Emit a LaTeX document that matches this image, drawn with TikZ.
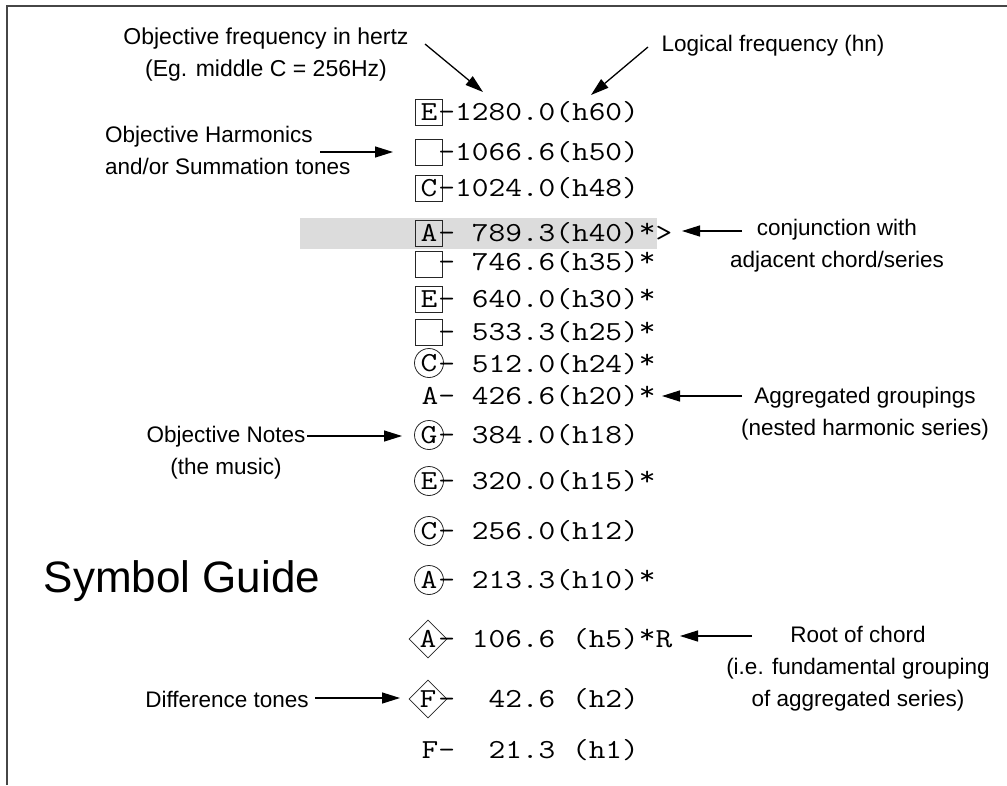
\documentclass[tikz,border=0pt]{standalone}
\usepackage{fontspec}
\usepackage{graphicx}
\setmainfont{Liberation Sans}
\usetikzlibrary{shapes.geometric,arrows.meta}
\newlength\cellw \setlength\cellw{16.7pt}
\newcommand\mch[1]{\scalebox{1.18}[1]{#1}}
\newcommand\st{\raisebox{4pt}{*}}
\def\mrow#1{\mrowi#1\relax}
\def\mrowi#1{\ifx\relax#1\else\makebox[\cellw]{\mch{#1}}\expandafter\mrowi\fi}
\definecolor{band}{RGB}{220,220,220}
\definecolor{frame}{RGB}{70,70,70}
\begin{document}
\begin{tikzpicture}[x=1pt,y=-1pt,
  mono/.style={font=\ttfamily\fontsize{27.5}{30}\selectfont, inner sep=0pt},
  rowtxt/.style={mono, anchor=base west},
  sqbox/.style={mono, draw=black!85, line width=0.8pt, minimum width=27pt, minimum height=26pt},
  circbox/.style={mono, draw=black!85, line width=0.8pt, circle, minimum size=29pt},
  diabox/.style={mono, draw=black!85, line width=0.8pt, diamond, minimum size=38pt},
  plainbox/.style={mono},
  lbl/.style={font=\fontsize{22.5}{32}\selectfont, inner sep=0pt, align=center},
  arr/.style={line width=1.3pt, -{Triangle[length=18pt,width=11pt]}}]
\useasboundingbox (0,0) rectangle (1007,785);
% frame
\draw[frame, line width=1.6pt] (7,785) -- (7,6) -- (1007,6);
% highlight band
\fill[band] (300,218) rectangle (657,249);
% rows
\def\lx{429}
\def\tx{438.3}
\node[sqbox]   (l60) at (\lx,112) {\mch{E}};
\node[rowtxt]  (t60) at (\tx,120) {\mrow{-1280.0(h60)}};
\node[sqbox]   (l50) at (\lx,152) {\phantom{E}};
\node[rowtxt]  (t50) at (\tx,160) {\mrow{-1066.6(h50)}};
\node[sqbox]   (l48) at (\lx,188) {\mch{C}};
\node[rowtxt]  (t48) at (\tx,196) {\mrow{-1024.0(h48)}};
\node[sqbox]   (l40) at (\lx,233) {\mch{A}};
\node[rowtxt]  (t40) at (\tx,241) {\mrow{-~789.3(h40)\st>}};
\node[sqbox]   (l35) at (\lx,264) {\phantom{E}};
\node[rowtxt]  (t35) at (\tx,270.5) {\mrow{-~746.6(h35)\st}};
\node[sqbox]   (l30) at (\lx,299) {\mch{E}};
\node[rowtxt]  (t30) at (\tx,307) {\mrow{-~640.0(h30)\st}};
\node[sqbox]   (l25) at (\lx,332) {\phantom{E}};
\node[rowtxt]  (t25) at (\tx,340) {\mrow{-~533.3(h25)\st}};
\node[circbox] (l24) at (\lx,363) {\mch{C}};
\node[rowtxt]  (t24) at (\tx,372.5) {\mrow{-~512.0(h24)\st}};
\node[plainbox](l20) at (\lx+1,396) {\mch{A}};
\node[rowtxt]  (t20) at (\tx,404) {\mrow{-~426.6(h20)\st}};
\node[circbox] (l18) at (\lx,435) {\mch{G}};
\node[rowtxt]  (t18) at (\tx,443.5) {\mrow{-~384.0(h18)}};
\node[circbox] (l15) at (\lx,481) {\mch{E}};
\node[rowtxt]  (t15) at (\tx,489) {\mrow{-~320.0(h15)\st}};
\node[circbox] (l12) at (\lx,531) {\mch{C}};
\node[rowtxt]  (t12) at (\tx,539) {\mrow{-~256.0(h12)}};
\node[circbox] (l10) at (\lx,580) {\mch{A}};
\node[rowtxt]  (t10) at (\tx,588) {\mrow{-~213.3(h10)\st}};
\node[diabox]  (l5)  at (\lx-1,639) {\mch{A}};
\node[rowtxt]  (t5)  at (\tx,647) {\mrow{-~106.6~(h5)\st R}};
\node[diabox]  (l2)  at (\lx-1,699) {\mch{F}};
\node[rowtxt]  (t2)  at (\tx,707) {\mrow{-~~42.6~(h2)}};
\node[plainbox](l1)  at (\lx+1,750) {\mch{F}};
\node[rowtxt]  (t1)  at (\tx,758) {\mrow{-~~21.3~(h1)}};
% labels
\node[lbl, font=\fontsize{23}{32}\selectfont] (freq) at (266,55) {Objective frequency in hertz\\(Eg. middle C = 256Hz)};
\node[lbl] (logi) at (773,46) {Logical frequency (hn)};
\node[lbl, align=left, anchor=west] (harm) at (105,150) {Objective Harmonics\\and/or Summation tones};
\node[lbl] (conj) at (837,246) {conjunction with\\adjacent chord/series};
\node[lbl] (aggr) at (865,414) {Aggregated groupings\\(nested harmonic series)};
\node[lbl] (notes) at (226,453) {Objective Notes\\(the music)};
\node[font=\fontsize{44}{50}\selectfont, inner sep=0pt] (guide) at (182,581) {Symbol Guide};
\node[lbl] (root) at (858,669) {Root of chord\\(i.e. fundamental grouping\\of aggregated series)};
\node[lbl] (diff) at (227,699) {Difference tones};
% arrow end points
\coordinate (a1s) at (425,44);  \coordinate (a1e) at (483,92);
\coordinate (a2s) at (648,47);  \coordinate (a2e) at (591,95);
\coordinate (a3s) at (320,152); \coordinate (a3e) at (393,152);
\coordinate (a4s) at (742,231); \coordinate (a4e) at (682,231);
\coordinate (a5s) at (742,396); \coordinate (a5e) at (662,396);
\coordinate (a6s) at (307,436); \coordinate (a6e) at (402,436);
\coordinate (a7s) at (752,636); \coordinate (a7e) at (680,636);
\coordinate (a8s) at (315,698); \coordinate (a8e) at (400,698);
\draw[arr] (a1s) -- (a1e);
\draw[arr] (a2s) -- (a2e);
\draw[arr] (a3s) -- (a3e);
\draw[arr] (a4s) -- (a4e);
\draw[arr] (a5s) -- (a5e);
\draw[arr] (a6s) -- (a6e);
\draw[arr] (a7s) -- (a7e);
\draw[arr] (a8s) -- (a8e);
\end{tikzpicture}
\end{document}
